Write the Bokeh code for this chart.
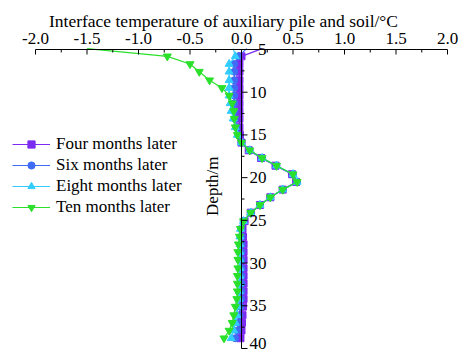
import math
from bokeh.plotting import figure
from bokeh.models import Range1d, ColumnDataSource, Legend, LegendItem
from bokeh.core.properties import value
from bokeh.embed import file_html
from bokeh.resources import INLINE

# ---------------- data ----------------
depth = [4.9, 5.8, 6.7, 7.6, 8.6, 9.5, 10.4, 11.3, 12.2, 13.1, 14.1, 15.0, 15.9, 16.8,
         17.7, 18.6, 19.6, 20.5, 21.4, 22.3, 23.2, 24.1, 25.1, 26.0, 26.9, 27.8, 28.7,
         29.6, 30.6, 31.5, 32.4, 33.3, 34.2, 35.1, 36.1, 37.0, 37.9, 38.8]

four_months = [0.20, 0.00, -0.02, -0.02, -0.02, -0.02, -0.02, -0.02, -0.02, -0.02, -0.02,
               -0.015, 0.00, 0.07, 0.19, 0.33, 0.49, 0.53, 0.40, 0.28, 0.18, 0.09, 0.03,
               0.01, 0.015, 0.02, 0.02, 0.02, 0.02, 0.02, 0.02, 0.02, 0.02, 0.015, 0.01,
               0.005, 0.0, -0.01]
six_months = [0.05, -0.03, -0.07, -0.07, -0.07, -0.07, -0.07, -0.07, -0.07, -0.065, -0.05,
              -0.03, 0.00, 0.08, 0.20, 0.34, 0.50, 0.54, 0.40, 0.28, 0.18, 0.09, 0.02,
              0.0, 0.0, 0.0, 0.0, 0.0, 0.0, 0.0, 0.0, 0.0, -0.005, -0.01, -0.02, -0.03,
              -0.04, -0.06]
eight_months = [-0.08, -0.06, -0.12, -0.12, -0.12, -0.12, -0.12, -0.11, -0.10, -0.08, -0.06,
                -0.04, 0.00, 0.08, 0.20, 0.34, 0.50, 0.54, 0.40, 0.28, 0.18, 0.09, 0.02,
                -0.01, -0.015, -0.015, -0.015, -0.015, -0.015, -0.015, -0.02, -0.02, -0.025,
                -0.035, -0.045, -0.06, -0.075, -0.10]
ten_months = [-1.50, -0.72, -0.50, -0.41, -0.31, -0.19, -0.12, -0.09, -0.075, -0.07, -0.06,
              -0.04, 0.00, 0.08, 0.20, 0.34, 0.50, 0.54, 0.40, 0.28, 0.18, 0.09, 0.02,
              -0.01, -0.02, -0.03, -0.035, -0.035, -0.035, -0.04, -0.04, -0.04, -0.045,
              -0.06, -0.075, -0.09, -0.12, -0.17]

series_names = ["Four months later", "Six months later", "Eight months later", "Ten months later"]
x_ticks = [-2.0, -1.5, -1.0, -0.5, 0.0, 0.5, 1.0, 1.5, 2.0]
x_tick_labels = ["-2.0", "-1.5", "-1.0", "-0.5", "0.0", "0.5", "1.0", "1.5", "2.0"]
x_minor_ticks = [-1.75, -1.25, -0.75, -0.25, 0.25, 0.75, 1.25, 1.75]
y_ticks = [5, 10, 15, 20, 25, 30, 35, 40]
y_tick_labels = ["5", "10", "15", "20", "25", "30", "35", "40"]
y_minor_ticks = [7.5, 12.5, 17.5, 22.5, 27.5, 32.5, 37.5]

x_title = "Interface temperature of auxiliary pile and soil/\u00b0C"
y_title = "Depth/m"

# ---------------- layout (pixels) ----------------
W, H = 464, 353
AX_L, AX_R = 35, 447      # pixel x of x_ticks[0] and x_ticks[-1]
AX_T, AX_B = 49, 348      # pixel y of y_ticks[0] and y_ticks[-1]
ux = (x_ticks[-1] - x_ticks[0]) / (AX_R - AX_L)   # data units per px (x)
uy = (y_ticks[-1] - y_ticks[0]) / (AX_B - AX_T)   # data units per px (y)
x_start = x_ticks[0] - AX_L * ux
x_end = x_ticks[-1] + (W - AX_R) * ux
y_top = y_ticks[0] - AX_T * uy
y_bot = y_ticks[-1] + (H - AX_B) * uy

FONT = "Liberation Serif"
FS = "17px"
colors = ["#7B2CF0", "#3F6BF5", "#33CCFF", "#2BE02B"]
markers = ["square", "circle", "triangle", "inverted_triangle"]
msizes = [7, 7, 8, 8]

p = figure(width=W, height=H, output_backend="svg", toolbar_location=None,
           x_range=Range1d(x_start, x_end), y_range=Range1d(y_bot, y_top),
           x_axis_location=None, y_axis_location=None,
           min_border=0, min_border_left=0, min_border_right=0,
           min_border_top=0, min_border_bottom=0)
p.outline_line_color = None
p.xgrid.visible = False
p.ygrid.visible = False
p.background_fill_color = "white"
p.border_fill_color = "white"

# ---------------- series ----------------
items = []
all_series = [four_months, six_months, eight_months, ten_months]
for vals, name, c, m, s in zip(all_series, series_names, colors, markers, msizes):
    src = ColumnDataSource(dict(x=vals, y=depth))
    rl = p.line("x", "y", source=src, line_color=c, line_width=1.2)
    # markers only inside the plotted depth range (the shallowest point is cut by the axis)
    vis = [(v, d) for v, d in zip(vals, depth) if d >= y_ticks[0]]
    msrc = ColumnDataSource(dict(x=[v for v, _ in vis], y=[d for _, d in vis]))
    rs = p.scatter("x", "y", source=msrc, marker=m, size=s, fill_color=c, line_color=c)
    items.append(LegendItem(label=name, renderers=[rl, rs]))

# ---------------- top temperature axis ----------------
y0 = y_ticks[0]
p.segment(x0=[x_ticks[0]], y0=[y0], x1=[x_ticks[-1]], y1=[y0], line_color="black", line_width=1)
p.segment(x0=x_ticks, y0=[y0] * len(x_ticks), x1=x_ticks, y1=[y0 + 5 * uy] * len(x_ticks),
          line_color="black", line_width=1)
p.segment(x0=x_minor_ticks, y0=[y0] * len(x_minor_ticks), x1=x_minor_ticks,
          y1=[y0 + 3 * uy] * len(x_minor_ticks), line_color="black", line_width=1)
p.text(x=x_ticks, y=[y0 - 11.5 * uy] * len(x_ticks), text=x_tick_labels,
       text_font=value(FONT), text_font_size=value(FS), text_color="black",
       text_align="center", text_baseline="middle")
p.text(x=[x_ticks[0] + 188 * ux], y=[y0 - 29 * uy], text=[x_title],
       text_font=value(FONT), text_font_size=value("17.5px"), text_color="black",
       text_align="center", text_baseline="middle")

# ---------------- central depth axis ----------------
x0 = 0.0
p.segment(x0=[x0], y0=[y_ticks[0]], x1=[x0], y1=[y_ticks[-1]], line_color="black", line_width=1)
p.segment(x0=[x0] * len(y_ticks), y0=y_ticks, x1=[x0 + 6 * ux] * len(y_ticks), y1=y_ticks,
          line_color="black", line_width=1)
p.segment(x0=[x0] * len(y_minor_ticks), y0=y_minor_ticks, x1=[x0 + 3 * ux] * len(y_minor_ticks),
          y1=y_minor_ticks, line_color="black", line_width=1)
# keep the deepest label inside the picture
label_y = [t for t in y_ticks[:-1]] + [y_ticks[-1] - 5 * uy]
p.text(x=[x0 + 25 * ux] * len(y_ticks), y=label_y, text=y_tick_labels,
       text_font=value(FONT), text_font_size=value(FS), text_color="black",
       text_align="right", text_baseline="middle")
p.text(x=[x0 - 29 * ux], y=[21.0], text=[y_title], angle=math.pi / 2,
       text_font=value(FONT), text_font_size=value(FS), text_color="black",
       text_align="center", text_baseline="middle")

# ---------------- legend ----------------
legend = Legend(items=items, location=(12, 136), border_line_color=None,
                background_fill_alpha=0, padding=0, margin=0, spacing=1,
                glyph_width=38, glyph_height=18, label_height=18, label_standoff=6,
                label_text_font=FONT, label_text_font_size=FS, label_text_color="black")
p.add_layout(legend)

open("out.html", "w").write(file_html(p, INLINE))
